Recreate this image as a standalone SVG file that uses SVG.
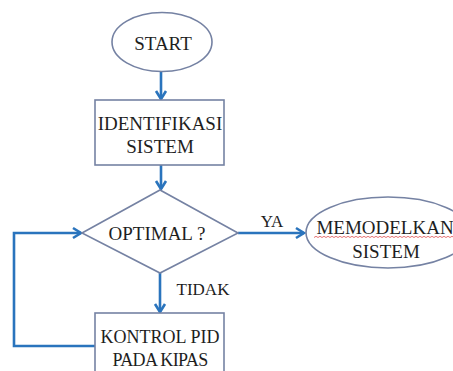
<svg xmlns="http://www.w3.org/2000/svg" width="453" height="371" viewBox="0 0 453 371">
<defs>
<marker id="arrow" viewBox="0 0 12 12" refX="11" refY="6" markerWidth="12" markerHeight="12" markerUnits="userSpaceOnUse" orient="auto" overflow="visible">
<path d="M3,1 L11,6 L3,11" fill="none" stroke="#2a74bd" stroke-width="2.6"/>
</marker>
</defs>
<style>
.shape{fill:#ffffff;stroke:#7582a3;stroke-width:1.6}
text{font-family:'Times New Roman','Liberation Serif',Tinos,serif;font-size:19px;fill:#1e1e1e;text-anchor:middle}
.sm{font-size:17px}
.md{font-size:18px}
.conn{fill:none;stroke:#2a74bd;stroke-width:2.6}
</style>
<rect width="453" height="371" fill="#ffffff"/>
<g id="connectors">
<path class="conn" d="M161,72 V99" marker-end="url(#arrow)"/>
<path class="conn" d="M161,165 V189" marker-end="url(#arrow)"/>
<path class="conn" d="M238,233 H304" marker-end="url(#arrow)"/>
<path class="conn" d="M160,273 V312" marker-end="url(#arrow)"/>
<path class="conn" d="M95,346 H14 V233 H81" marker-end="url(#arrow)"/>
<text class="sm" x="272" y="227">YA</text>
<text class="sm" x="203" y="295">TIDAK</text>
</g>
<g id="start">
<ellipse class="shape" cx="162" cy="42" rx="50" ry="29.5"/>
<text x="163" y="50">START</text>
</g>
<g id="identifikasi">
<rect class="shape" x="95" y="100" width="129" height="65"/>
<text x="160" y="130">IDENTIFIKASI</text>
<text x="160" y="153">SISTEM</text>
</g>
<g id="optimal">
<polygon class="shape" points="82,233 160,190 238,233 160,273"/>
<text x="157" y="240">OPTIMAL ?</text>
</g>
<g id="memodelkan">
<ellipse class="shape" cx="388" cy="232.5" rx="82" ry="35.5"/>
<text x="385" y="234">MEMODELKAN</text>
<path d="M314,237.5 l2,-1.2 l2,1.2 l2,-1.2 l2,1.2 l2,-1.2 l2,1.2 l2,-1.2 l2,1.2 l2,-1.2 l2,1.2 l2,-1.2 l2,1.2 l2,-1.2 l2,1.2 l2,-1.2 l2,1.2 l2,-1.2 l2,1.2 l2,-1.2 l2,1.2 l2,-1.2 l2,1.2 l2,-1.2 l2,1.2 l2,-1.2 l2,1.2 l2,-1.2 l2,1.2 l2,-1.2 l2,1.2 l2,-1.2 l2,1.2 l2,-1.2 l2,1.2 l2,-1.2 l2,1.2 l2,-1.2 l2,1.2 l2,-1.2 l2,1.2 l2,-1.2 l2,1.2 l2,-1.2 l2,1.2 l2,-1.2 l2,1.2 l2,-1.2 l2,1.2 l2,-1.2 l2,1.2 l2,-1.2 l2,1.2 l2,-1.2 l2,1.2 l2,-1.2 l2,1.2 l2,-1.2 l2,1.2 l2,-1.2 l2,1.2 l2,-1.2 l2,1.2 l2,-1.2 l2,1.2 l2,-1.2 l2,1.2 l2,-1.2 l2,1.2 l2,-1.2 l2,1.2 l2,-1.2 l2,1.2 l2,-1.2" fill="none" stroke="#e05050" stroke-width="0.8"/>
<text x="386" y="258">SISTEM</text>
</g>
<g id="kontrol">
<rect class="shape" x="95" y="313" width="129" height="64"/>
<text class="md" x="160" y="343">KONTROL PID</text>
<text class="md" x="160" y="366" letter-spacing="-0.6">PADA KIPAS</text>
</g>
</svg>
